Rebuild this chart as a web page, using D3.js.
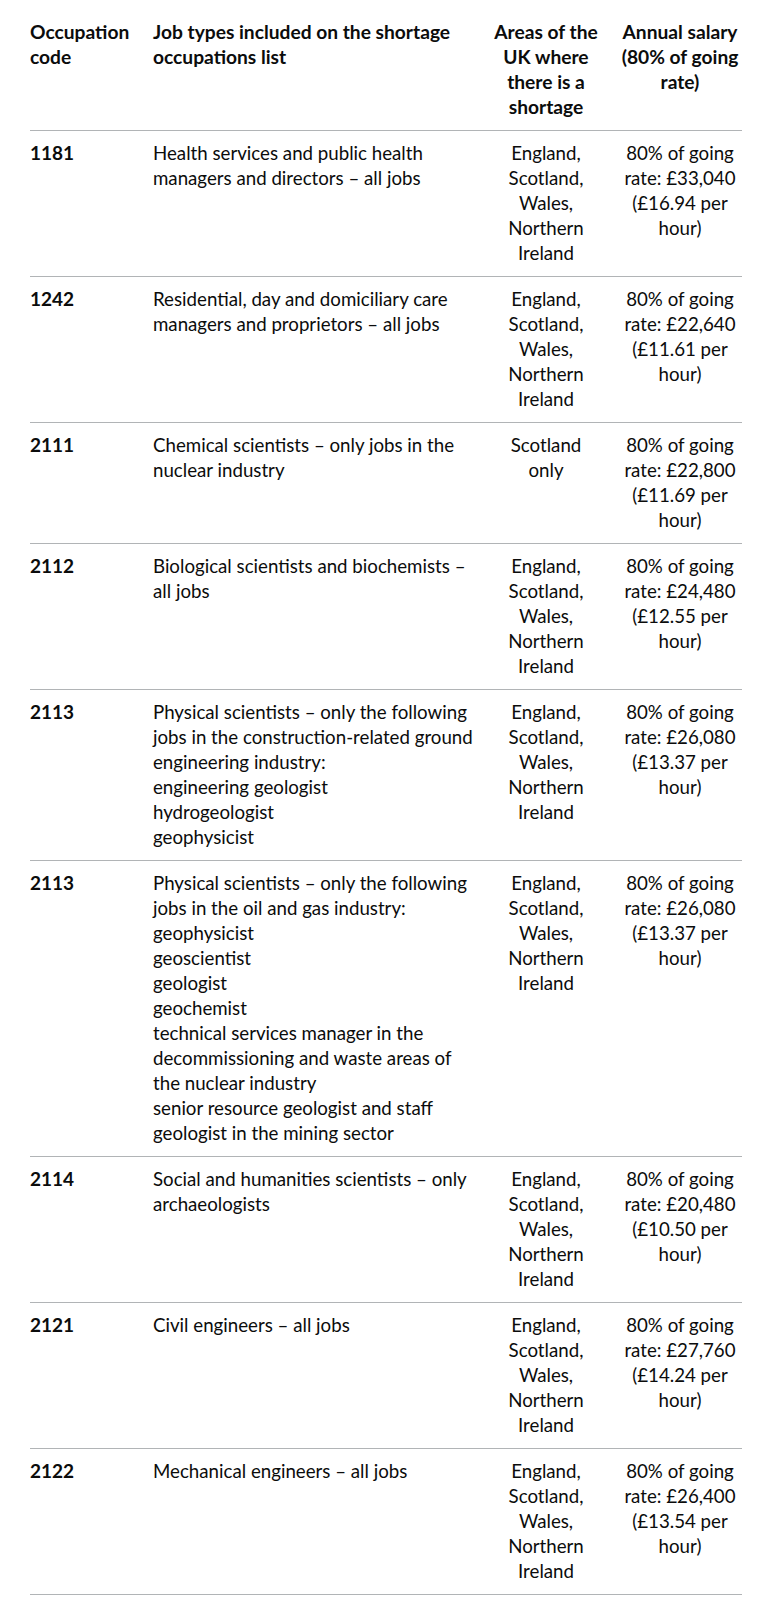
<!DOCTYPE html>
<html>
<head>
<meta charset="utf-8">
<script src="https://cdn.jsdelivr.net/npm/d3@7"></script>
<style>
  html, body { margin: 0; padding: 0; background: #ffffff; }
  svg { display: block; }
  text { font-family: Lato, "Noto Sans", sans-serif; font-size: 19px; fill: #0b0c0c; }
  text.body { font-size: 18.7px; }
  text.head { font-size: 19.2px; }
</style>
</head>
<body>
<div id="chart"></div>
<script>
// ---- data ----
const headers = [
  ["Occupation", "code"],
  ["Job types included on the shortage", "occupations list"],
  ["Areas of the", "UK where", "there is a", "shortage"],
  ["Annual salary", "(80% of going", "rate)"]
];

const codes = ["1181", "1242", "2111", "2112", "2113", "2113", "2114", "2121", "2122"];

const jobTypes = [
  ["Health services and public health", "managers and directors – all jobs"],
  ["Residential, day and domiciliary care", "managers and proprietors – all jobs"],
  ["Chemical scientists – only jobs in the", "nuclear industry"],
  ["Biological scientists and biochemists –", "all jobs"],
  ["Physical scientists – only the following", "jobs in the construction-related ground", "engineering industry:", "engineering geologist", "hydrogeologist", "geophysicist"],
  ["Physical scientists – only the following", "jobs in the oil and gas industry:", "geophysicist", "geoscientist", "geologist", "geochemist", "technical services manager in the", "decommissioning and waste areas of", "the nuclear industry", "senior resource geologist and staff", "geologist in the mining sector"],
  ["Social and humanities scientists – only", "archaeologists"],
  ["Civil engineers – all jobs"],
  ["Mechanical engineers – all jobs"]
];

const allUK = ["England,", "Scotland,", "Wales,", "Northern", "Ireland"];
const scotlandOnly = ["Scotland", "only"];
const areas = [allUK, allUK, scotlandOnly, allUK, allUK, allUK, allUK, allUK, allUK];

const annualSalary = [33040, 22640, 22800, 24480, 26080, 26080, 20480, 27760, 26400];
const hourlyRate = [16.94, 11.61, 11.69, 12.55, 13.37, 13.37, 10.50, 14.24, 13.54];

// ---- layout ----
const W = 770, H = 1604;
const lineH = 25, padV = 10, baseOff = 19, border = 1;
const tableLeft = 30, tableRight = 742, tableTop = 10;

const fmtMoney = d3.format(",");
const fmtRate = d3.format(".2f");
const salaryLines = (i) => [
  "80% of going",
  "rate: £" + fmtMoney(annualSalary[i]),
  "(£" + fmtRate(hourlyRate[i]) + " per",
  "hour)"
];

const rows = codes.map((c, i) => ({
  cells: [[c], jobTypes[i], areas[i], salaryLines(i)]
}));

// columns: anchor x and alignment
const cols = [
  { x: 30, anchor: "start" },
  { x: 153, anchor: "start" },
  { x: 546, anchor: "middle" },
  { x: 680, anchor: "middle" }
];

// compute row tops cumulatively
let y = tableTop;
const headerTop = y;
const headerLines = d3.max(headers, h => h.length);
y += padV * 2 + headerLines * lineH;
const headerBorder = y;
y += border;
rows.forEach(r => {
  r.lines = d3.max(r.cells, c => c.length);
  r.top = y;
  y += padV * 2 + r.lines * lineH;
  r.borderY = y;
  y += border;
});

const svg = d3.select("#chart").append("svg")
  .attr("width", W).attr("height", H);

svg.append("rect").attr("width", W).attr("height", H).attr("fill", "#ffffff");

// header
const hg = svg.append("g").attr("class", "header");
headers.forEach((lines, ci) => {
  const t = hg.append("text")
    .attr("class", "head")
    .attr("text-anchor", cols[ci].anchor)
    .attr("font-weight", 700);
  lines.forEach((ln, li) => {
    t.append("tspan")
      .attr("x", cols[ci].x)
      .attr("y", headerTop + padV + baseOff + li * lineH)
      .text(ln);
  });
});

const borderYs = [headerBorder].concat(rows.map(r => r.borderY));
svg.append("g").selectAll("rect").data(borderYs).join("rect")
  .attr("x", tableLeft).attr("width", tableRight - tableLeft)
  .attr("y", d => d).attr("height", border)
  .attr("fill", "#b1b4b6");

// body
const rg = svg.append("g").selectAll("g").data(rows).join("g");
rg.each(function(r) {
  const g = d3.select(this);
  r.cells.forEach((lines, ci) => {
    const t = g.append("text")
      .attr("class", ci === 0 ? "code" : "body")
      .attr("text-anchor", cols[ci].anchor)
      .attr("font-weight", ci === 0 ? 700 : 400);
    lines.forEach((ln, li) => {
      t.append("tspan")
        .attr("x", cols[ci].x)
        .attr("y", r.top + padV + baseOff + li * lineH)
        .text(ln);
    });
  });
});
</script>
</body>
</html>
